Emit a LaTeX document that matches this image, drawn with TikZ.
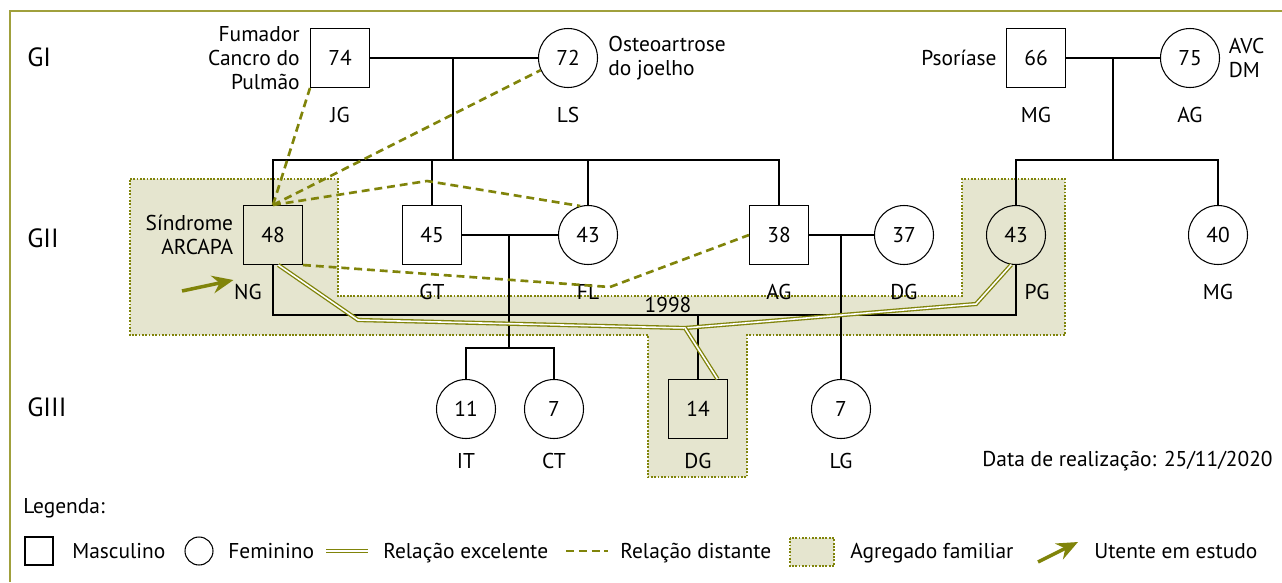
\documentclass[tikz,border=0pt]{standalone}
\usepackage{fontspec}
\setmainfont{PT Sans}
\usetikzlibrary{positioning,arrows.meta}

\definecolor{oliva}{RGB}{128,132,10}
\definecolor{moldura}{RGB}{160,160,60}
\definecolor{agregado}{RGB}{229,229,207}

\begin{document}
\begin{tikzpicture}[x=0.02cm,y=-0.02cm,font=\fontsize{12.2}{13.6}\selectfont,
    masc/.style={draw,line width=0.6pt,minimum size=1.18cm,inner sep=0pt,
      text height=11pt,text depth=2.5pt},
    fem/.style={masc,circle},
    rotulo/.style={inner sep=0pt,text height=11pt,text depth=2.5pt},
    geracao/.style={anchor=west,inner sep=0pt,font=\fontsize{15}{18}\selectfont,
      text height=13.5pt,text depth=3pt},
    nota/.style={inner sep=0pt},
    laco/.style={line width=0.6pt},
    distante/.style={oliva,line width=1.5pt,dash pattern=on 4.5pt off 2.8pt},
    excelente/.style={draw=oliva,line width=0.75pt,double=white,double distance=0.9pt},
    contorno/.style={oliva,line width=1.2pt,dash pattern=on 1pt off 0.9pt},
    seta/.style={oliva,line width=2pt,-{Stealth[length=12pt,width=10pt]}}]

    \useasboundingbox (0,0) rectangle (1282,582);
    \draw[moldura,line width=0.85pt] (10,582) -- (10,11) -- (1282,11);

    % agregado familiar
    \fill[agregado] (130,179) -- (338,179) -- (338,296) -- (962,296) -- (962,179)
        -- (1065,179) -- (1065,335) -- (747,335) -- (747,477) -- (648,477)
        -- (648,335) -- (130,335) -- cycle;
    \draw[contorno] (130,179) -- (338,179) -- (338,296) -- (962,296) -- (962,179)
        -- (1065,179) -- (1065,335) -- (747,335) -- (747,477) -- (648,477)
        -- (648,335) -- (130,335) -- cycle;

    % geracoes
    \node[geracao] (g1) at (27,57) {GI};
    \node[geracao] (g2) at (27,238) {GII};
    \node[geracao] (g3) at (27,407) {GIII};

    % GI
    \node[masc] (jg) at (340,58) {74};
    \node[fem] (ls) at (568,58) {72};
    \node[masc] (mga) at (1036,58) {66};
    \node[fem] (aga) at (1190,58) {75};

    % GII
    \node[masc] (ng) at (273,235) {48};
    \node[masc] (gt) at (432,235) {45};
    \node[fem] (fl) at (588,235) {43};
    \node[masc] (ag) at (779,235) {38};
    \node[fem] (dg) at (904,235) {37};
    \node[fem] (pg) at (1016,235) {43};
    \node[fem] (mg) at (1218,235) {40};

    % GIII
    \node[fem] (it) at (466,409) {11};
    \node[fem] (ct) at (554,409) {7};
    \node[masc] (dgf) at (698,409) {14};
    \node[fem] (lg) at (841,409) {7};

    % nomes
    \node[rotulo,below=0.3cm of jg] (jg-n) {JG};
    \node[rotulo,below=0.3cm of ls] (ls-n) {LS};
    \node[rotulo,below=0.3cm of mga] (mga-n) {MG};
    \node[rotulo,below=0.3cm of aga] (aga-n) {AG};
    \node[rotulo,below=0.3cm of ng,xshift=-0.5cm] (ng-n) {NG};
    \node[rotulo,below=0.3cm of gt] (gt-n) {GT};
    \node[rotulo,below=0.3cm of fl] (fl-n) {FL};
    \node[rotulo,below=0.3cm of ag] (ag-n) {AG};
    \node[rotulo,below=0.3cm of dg] (dg-n) {DG};
    \node[rotulo,below=0.3cm of pg,xshift=0.42cm] (pg-n) {PG};
    \node[rotulo,below=0.3cm of mg] (mg-n) {MG};
    \node[rotulo,below=0.2cm of it] (it-n) {IT};
    \node[rotulo,below=0.2cm of ct] (ct-n) {CT};
    \node[rotulo,below=0.2cm of dgf] (dgf-n) {DG};
    \node[rotulo,below=0.2cm of lg] (lg-n) {LG};

    % doencas
    \node[nota,align=right,left=0.2cm of jg] (jg-d) {Fumador\\Cancro do\\Pulmão};
    \node[nota,align=left,right=0.2cm of ls] (ls-d) {Osteoartrose\\do joelho};
    \node[nota,align=right,left=0.19cm of ng] (ng-d) {Síndrome\\ARCAPA};
    \node[rotulo,left=0.18cm of mga] (mga-d) {Psoríase};
    \node[nota,align=left,right=0.17cm of aga] (aga-d) {AVC\\DM};

    % lacos familiares
    \coordinate (casal1) at (453,58);
    \coordinate (irm1) at (453,160);
    \coordinate (casal2) at (1113,58);
    \coordinate (irm2) at (1113,160);
    \coordinate (casal3) at (509,235);
    \coordinate (filhos3) at (509,348);
    \coordinate (casal4) at (841,235);
    \coordinate (casamento) at (698,315);

    \draw[laco] (jg) -- (ls);
    \draw[laco] (casal1) -- (irm1);
    \draw[laco] (ng.north) |- (irm1) -| (ag.north);
    \draw[laco] (gt.north) -- (gt.north |- irm1);
    \draw[laco] (fl.north) -- (fl.north |- irm1);
    \draw[laco] (mga) -- (aga);
    \draw[laco] (casal2) -- (irm2);
    \draw[laco] (pg.north) |- (irm2) -| (mg.north);
    \draw[laco] (gt) -- (fl);
    \draw[laco] (casal3) -- (filhos3);
    \draw[laco] (it.north) |- (filhos3) -| (ct.north);
    \draw[laco] (ag) -- (dg);
    \draw[laco] (casal4) -- (lg);
    \draw[laco] (ng.south) |- (casamento) -| (pg.south);
    \draw[laco] (casamento) -- (dgf);
    \node[rotulo] (ano) at (668,305) {1998};

    % relacoes distantes
    \coordinate (dobra1) at (427,181);
    \coordinate (dobra2) at (610,287);
    \draw[distante] (ng.north) -- (jg.south west);
    \draw[distante] (ng.north) -- (ls.204);
    \draw[distante] (ng.north) -- (dobra1) -- (fl.105);
    \draw[distante] (ng.south east) -- (dobra2) -- (ag.west);

    % relacoes excelentes
    \coordinate (exc1) at (358,320);
    \coordinate (exc2) at (685,328);
    \coordinate (exc3) at (976,304);
    \draw[excelente] (ng.-80) -- (exc1) -- (exc2) -- (exc3) -- (pg.-99);
    \draw[excelente] (exc2) -- (dgf.57);

    % utente em estudo
    \coordinate (seta0) at (182,291);
    \draw[seta] (seta0) -- (ng-d.south east |- ng-n.north);

    \node[rotulo,anchor=east] (data) at (1273,459) {Data de realização: 25/11/2020};

    % legenda
    \node[rotulo,anchor=west] (leg) at (23,506) {Legenda:};
    \node[masc,minimum size=0.56cm] (l-masc) at (39,551) {};
    \node[rotulo,anchor=west] (l-masc-t) at (72,551) {Masculino};
    \node[fem,minimum size=0.56cm] (l-fem) at (199,551) {};
    \node[rotulo,anchor=west] (l-fem-t) at (228,551) {Feminino};
    \coordinate (l-exc0) at (326,551);
    \coordinate (l-exc1) at (368,551);
    \draw[excelente] (l-exc0) -- (l-exc1);
    \node[rotulo,anchor=west] (l-exc-t) at (383,551) {Relação excelente};
    \coordinate (l-dis0) at (566,551);
    \coordinate (l-dis1) at (608,551);
    \draw[distante] (l-dis0) -- (l-dis1);
    \node[rotulo,anchor=west] (l-dis-t) at (620,551) {Relação distante};
    \fill[agregado] (790,538) rectangle (834,566);
    \draw[contorno] (790,538) rectangle (834,566);
    \node[rotulo,anchor=west] (l-agr-t) at (850,551) {Agregado familiar};
    \coordinate (l-seta0) at (1038,562);
    \coordinate (l-seta1) at (1078,542);
    \draw[seta] (l-seta0) -- (l-seta1);
    \node[rotulo,anchor=west] (l-seta-t) at (1094,551) {Utente em estudo};

\end{tikzpicture}
\end{document}
